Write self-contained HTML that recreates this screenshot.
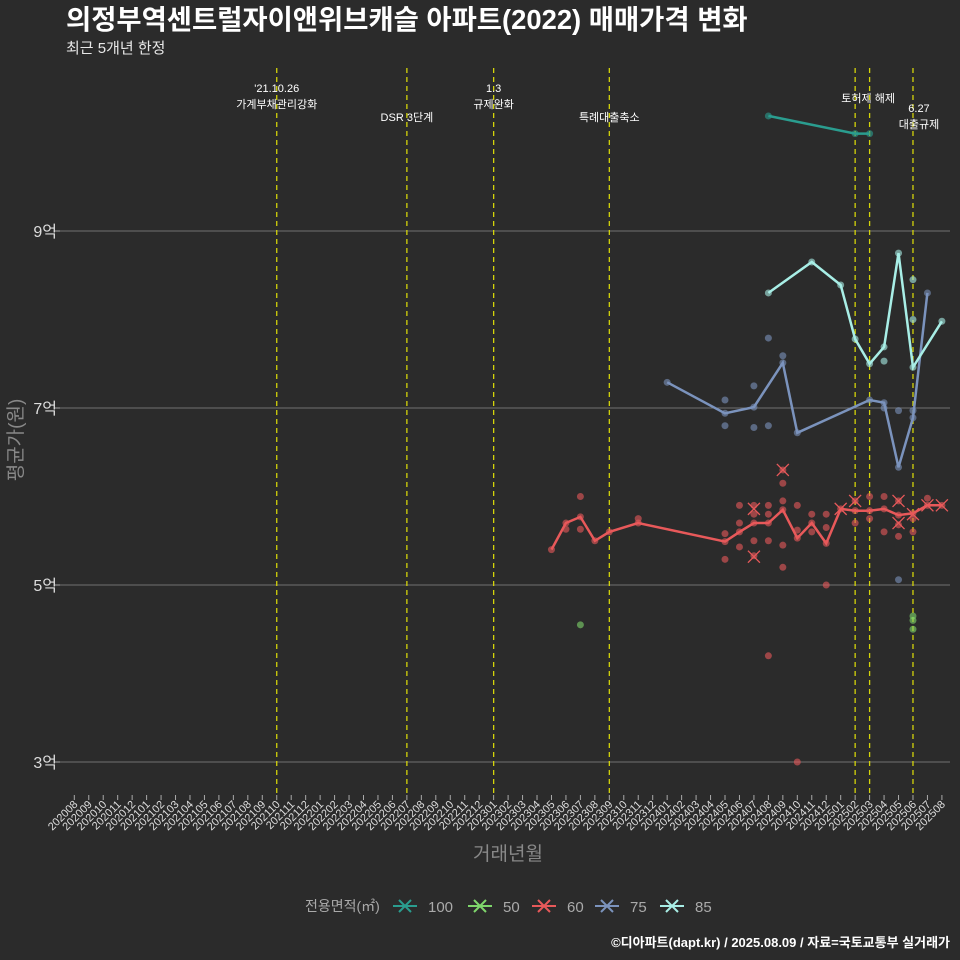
<!DOCTYPE html>
<html><head><meta charset="utf-8">
<style>
html,body{margin:0;padding:0;background:#2b2b2b;}
svg{display:block;font-family:"Liberation Sans","Noto Sans CJK KR",sans-serif;}
</style></head>
<body>
<svg id="chart" width="960" height="960" viewBox="0 0 960 960">
<rect width="960" height="960" fill="#2b2b2b"/>
<text x="66" y="29" font-size="27.4" font-weight="bold" fill="#ffffff">의정부역센트럴자이앤위브캐슬 아파트(2022) 매매가격 변화</text>
<text x="66" y="53" font-size="15" fill="#e8e8e8">최근 5개년 한정</text>
<g id="grid"></g><g id="events"></g><g id="series"></g><g id="axes"></g>
<text x="22" y="440" font-size="19" fill="#888" text-anchor="middle" transform="rotate(-90 22 440)">평균가(원)</text>
<text x="508" y="860" font-size="19" fill="#888" text-anchor="middle">거래년월</text>
<g id="legend"></g>
<text x="950" y="947" font-size="13" font-weight="bold" fill="#ffffff" text-anchor="end">©디아파트(dapt.kr) / 2025.08.09 / 자료=국토교통부 실거래가</text>
</svg>
<script>
const months=[];for(let y=2020,m=8;!(y===2025&&m===9);){months.push(''+y+(m<10?'0':'')+m);m++;if(m>12){m=1;y++;}}
const yTicks=[3,5,7,9];
const yTickLabels=['3억','5억','7억','9억'];
const eventMonths=['202110','202207','202301','202309','202502','202503','202506'];
const eventLabels=[["'21.10.26","가계부채관리강화"],["DSR 3단계"],["1.3","규제완화"],["특례대출축소"],["토허제 해제"],[""],["6.27","대출규제"]];
const eventLabelY=[92,121,92,121,102,0,112];
const eventLabelDx=[0,0,0,0,13,0,6];
const seriesNames=['100','50','60','75','85'];
const seriesColors=['#2a9d8f','#7ed66b','#e8595a','#7b93bd','#a8eee6'];
const line100M=['202408','202502','202503'];
const line100V=[10.3,10.1,10.1];
const line85M=['202408','202411','202501','202502','202503','202504','202505','202506','202508'];
const line85V=[8.30,8.65,8.39,7.78,7.50,7.69,8.75,7.46,7.98];
const line75M=['202401','202405','202407','202409','202410','202503','202504','202505','202506','202507'];
const line75V=[7.29,6.94,7.01,7.51,6.72,7.09,7.06,6.33,6.89,8.30];
const line60M=['202305','202306','202307','202308','202309','202311','202405','202406','202407','202408','202409','202410','202411','202412','202501','202502','202503','202504','202505','202506','202507','202508'];
const line60V=[5.40,5.70,5.77,5.50,5.60,5.70,5.49,5.60,5.70,5.70,5.85,5.53,5.70,5.47,5.86,5.84,5.84,5.86,5.79,5.81,5.90,5.90];
const pts85M=['202504','202506','202506'];
const pts85V=[7.53,8.45,8.0];
const pts75M=['202405','202405','202407','202407','202408','202408','202409','202504','202505','202505','202506'];
const pts75V=[7.09,6.80,7.25,6.78,7.79,6.80,7.59,7.00,6.97,5.06,6.97];
const pts50M=['202307','202506','202506','202506'];
const pts50V=[4.55,4.65,4.60,4.50];
const pts60M=['202307','202307','202306','202311','202405','202405','202406','202406','202406','202407','202407','202407','202407','202408','202408','202408','202409','202409','202409','202409','202409','202410','202410','202411','202411','202412','202412','202502','202502','202503','202503','202504','202504','202505','202505','202505','202506','202506','202507','202408','202410','202412'];
const pts60V=[6.0,5.63,5.63,5.75,5.29,5.58,5.90,5.70,5.43,5.90,5.33,5.50,5.80,5.80,5.90,5.50,6.30,6.15,5.95,5.20,5.45,5.90,5.62,5.60,5.80,5.00,5.65,5.95,5.70,6.00,5.75,6.00,5.60,5.95,5.55,5.68,5.75,5.60,5.98,4.20,3.00,5.80];
const crossM=['202407','202407','202409','202501','202502','202505','202505','202506','202507','202508'];
const crossV=[5.86,5.32,6.30,5.86,5.95,5.95,5.70,5.80,5.90,5.90];

const X0=74.3,DX=14.46,L=60,R=950;
function xs(m){return X0+DX*months.indexOf(m);}
function ys(v){return 762-(v-3)*88.5;}
const NS='http://www.w3.org/2000/svg';
function mk(tag,attrs,parent){const e=document.createElementNS(NS,tag);for(const k in attrs)e.setAttribute(k,attrs[k]);parent.appendChild(e);return e;}
const grid=document.getElementById('grid'),axes=document.getElementById('axes'),ev=document.getElementById('events'),ser=document.getElementById('series'),leg=document.getElementById('legend');
yTicks.forEach((t,i)=>{
 const g=mk('line',{x1:L,x2:R,y1:ys(t),y2:ys(t),stroke:'#707070','stroke-width':1},grid);
 
 
 const tk=mk('line',{x1:L-5,x2:L,y1:ys(t),y2:ys(t),stroke:'#aaa'},axes);
 
 
 const tx=mk('text',{x:L-3,y:ys(t)+6,'font-size':16,fill:'#ddd','text-anchor':'end'},axes);
 tx.textContent=yTickLabels[i];
 
 
});
months.forEach(m=>{
 const x=xs(m);
 const tk=mk('line',{x1:x,x2:x,y1:795,y2:800,stroke:'#aaa'},axes);
 
 
 const tx=mk('text',{x:x+4,y:805,'font-size':11,fill:'#ddd','text-anchor':'end',transform:`rotate(-45 ${x+4} 805)`},axes);
 tx.textContent=m;
 
 
});
eventMonths.forEach((m,i)=>{
 const x=xs(m);
 const l=mk('line',{x1:x,x2:x,y1:68,y2:795,stroke:'#d4d40a','stroke-width':1.3,'stroke-dasharray':'5,4'},ev);
 
 
 eventLabels[i].forEach((s,j)=>{if(!s)return;
  const t=mk('text',{x:x+eventLabelDx[i],y:eventLabelY[i]+j*16,'font-size':11,fill:'#fff','text-anchor':'middle'},ev);
  t.textContent=s;
  
  
 });
});
function dots(M,V,c,name){M.forEach((m,i)=>{const d=mk('circle',{cx:xs(m),cy:ys(V[i]),r:3.5,fill:c,'fill-opacity':0.6},ser);
 
 });}
function line(M,V,c,name){const p=M.map((m,i)=>xs(m).toFixed(1)+','+ys(V[i]).toFixed(1)).join(' ');
 const pl=mk('polyline',{points:p,fill:'none',stroke:c,'stroke-width':2.5},ser);
 
 
 dots(M,V,c,name+'-point');}
dots(pts60M,pts60V,seriesColors[2],'point-60');
dots(pts50M,pts50V,seriesColors[1],'point-50');
dots(pts75M,pts75V,seriesColors[3],'point-75');
dots(pts85M,pts85V,seriesColors[4],'point-85');
line(line60M,line60V,seriesColors[2],'line-60');
line(line75M,line75V,seriesColors[3],'line-75');
line(line85M,line85V,seriesColors[4],'line-85');
line(line100M,line100V,seriesColors[0],'line-100');
crossM.forEach((m,i)=>{const x=xs(m),y=ys(crossV[i]);
 const p=mk('path',{d:`M${x-6} ${y-6}L${x+6} ${y+6}M${x-6} ${y+6}L${x+6} ${y-6}`,stroke:seriesColors[2],'stroke-width':1.3},ser);
 
 });
const lt=mk('text',{x:305,y:911,'font-size':14,fill:'#aaa'},leg);
lt.textContent='전용면적(㎡)';


const legX=[393,468,532,595,660];
seriesNames.forEach((n,i)=>{const x=legX[i],y=906,c=seriesColors[i];
 const g=mk('g',{},leg);
 
 
 mk('path',{d:`M${x} ${y}H${x+24}M${x+6} ${y-6}L${x+18} ${y+6}M${x+6} ${y+6}L${x+18} ${y-6}`,stroke:c,'stroke-width':2},g);
 const t=mk('text',{x:x+35,y:y+6,'font-size':15,fill:'#aaa'},g);t.textContent=n;});
</script>
</body></html>
